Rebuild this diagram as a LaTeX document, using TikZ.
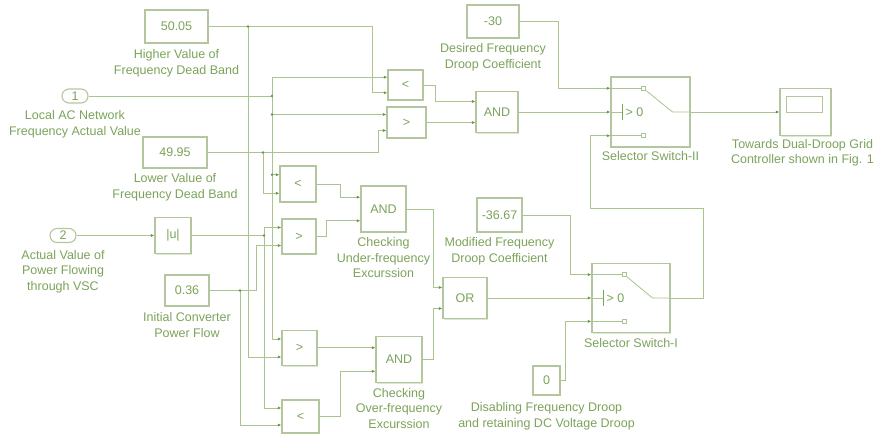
\documentclass[tikz,border=0pt]{standalone}
\usepackage{fontspec}
\setmainfont{Liberation Sans}
\usetikzlibrary{arrows.meta,positioning,calc,shadows}
\definecolor{SimText}{HTML}{7BA35A}
\definecolor{SimWire}{HTML}{A9C48E}
\definecolor{SimEdge}{HTML}{B2C79E}
\definecolor{SimTip}{HTML}{6E9448}

% port points on the left side of a block
\newcommand\twoin[1]{%
  \coordinate (#1-i1) at ($(#1.north west)!.25!(#1.south west)$);
  \coordinate (#1-i2) at ($(#1.north west)!.75!(#1.south west)$);}
\newcommand\threein[1]{%
  \coordinate (#1-i1) at ($(#1.north west)!{1/6}!(#1.south west)$);
  \coordinate (#1-i2) at (#1.west);
  \coordinate (#1-i3) at ($(#1.north west)!{5/6}!(#1.south west)$);}
% inside of a switch block
\newcommand\switchface[1]{%
  \draw[wire] (#1-i1) -- ++(31,0) node[term, anchor=west] (#1-up) {};
  \draw[wire] (#1-i3) -- ++(31,0) node[term, anchor=west] (#1-dn) {};
  \draw[wire] (#1-up.south east) -- ($(#1.east)+(-18,0)$) -- (#1.east);
  \draw[wire] (#1-i2) -- ++(12,0) coordinate (#1-bar);
  \draw[SimText, line width=.8pt] ($(#1-bar)+(0,-8)$) -- ($(#1-bar)+(0,8)$);
  \node[anchor=west, inner sep=0pt] (#1-cmp) at ($(#1-bar)+(3,0)$) {> 0};}

\begin{document}
\begin{tikzpicture}[
  x=1pt, y=-1pt,
  font=\fontsize{12.5}{15.5}\selectfont,
  every node/.style={text=SimText},
  block/.style={draw=SimEdge, line width=1.1pt, fill=white, inner sep=0pt,
    general shadow={fill=SimEdge!45, shadow xshift=1pt, shadow yshift=-1pt}},
  inport/.style={draw=SimEdge, line width=1.1pt, rounded corners=7pt, inner sep=0pt,
    minimum width=26, minimum height=14},
  note/.style={align=center, inner sep=0pt},
  term/.style={draw=SimWire, line width=.7pt, fill=white, inner sep=0pt, minimum size=4},
  jdot/.style={circle, fill=SimTip, inner sep=0pt, minimum size=2.6},
  wire/.style={draw=SimWire, line width=.8pt},
  feed/.style={wire, -{Latex[length=3.5pt,width=3pt,color=SimTip]}}
]
\useasboundingbox (0,0) rectangle (881,439);

% sources
\node[block, minimum width=63, minimum height=33] (hiband) at (176.5,26.5) {50.05};
\node[note, below=6pt of hiband] (hibandL) {Higher Value of\\Frequency Dead Band};
\node[inport] (fin) at (75,96) {1};
\node[note, below=7pt of fin] (finL) {Local AC Network\\Frequency Actual Value};
\node[block, minimum width=64, minimum height=31] (loband) at (175,152.5) {49.95};
\node[note, below=5pt of loband] (lobandL) {Lower Value of\\Frequency Dead Band};
\node[inport] (pin) at (63,235.5) {2};
\node[note, below=7pt of pin] (pinL) {Actual Value of\\Power Flowing\\through VSC};
\node[block, minimum width=36, minimum height=36] (absp) at (173,235.5) {|u|};
\node[block, minimum width=44, minimum height=31] (pinit) at (187,290.5) {0.36};
\node[note, below=6pt of pinit] (pinitL) {Initial Converter\\Power Flow};

% dead band check
\node[block, minimum width=35, minimum height=30] (bandLt) at (405.5,85) {<};
\node[block, minimum width=39, minimum height=31] (bandGt) at (406.5,122.5) {>};
\node[block, minimum width=42, minimum height=41] (bandAnd) at (497,112) {AND};
\node[block, minimum width=52, minimum height=33] (kdes) at (493,21.5) {-30};
\node[note, below=5pt of kdes] (kdesL) {Desired Frequency\\Droop Coefficient};
\node[block, minimum width=79, minimum height=70] (swII) at (650.5,112) {};
\node[note, below=4pt of swII] (swIIL) {Selector Switch-II};
\node[block, minimum width=51, minimum height=47] (scope) at (805.5,112) {};
\node[note, below=3pt of scope, xshift=-3pt] (scopeL) {Towards Dual-Droop Grid\\Controller shown in Fig. 1};

% under-frequency check
\node[block, minimum width=36, minimum height=36] (ufLt) at (298,184) {<};
\node[block, minimum width=34, minimum height=35] (ufGt) at (299,236.5) {>};
\node[block, minimum width=45, minimum height=46] (ufAnd) at (383.5,209) {AND};
\node[note, below=5pt of ufAnd] (ufAndL) {Checking\\Under-frequency\\Excurssion};

% over-frequency check
\node[block, minimum width=35, minimum height=35] (ofGt) at (299.5,348) {>};
\node[block, minimum width=37, minimum height=33] (ofLt) at (300.5,416.5) {<};
\node[block, minimum width=46, minimum height=46] (ofAnd) at (399,359.5) {AND};
\node[note, below=5pt of ofAnd] (ofAndL) {Checking\\Over-frequency\\Excurssion};

\node[block, minimum width=44, minimum height=41] (orGate) at (465,298) {OR};
\node[block, minimum width=45, minimum height=34] (kmod) at (499.5,215) {-36.67};
\node[note, below=5pt of kmod] (kmodL) {Modified Frequency\\Droop Coefficient};
\node[block, minimum width=78, minimum height=69] (swI) at (631,298) {};
\node[note, below=5pt of swI] (swIL) {Selector Switch-I};
\node[block, minimum width=27, minimum height=29] (kzero) at (546.5,380.5) {0};
\node[note, below=7pt of kzero] (kzeroL) {Disabling Frequency Droop\\and retaining DC Voltage Droop};

\twoin{bandLt} \twoin{bandGt} \twoin{bandAnd}
\twoin{ufLt} \twoin{ufGt} \twoin{ufAnd}
\twoin{ofGt} \twoin{ofLt} \twoin{ofAnd}
\twoin{orGate}
\threein{swII} \threein{swI}
\switchface{swII}
\switchface{swI}
\draw[SimEdge, line width=.9pt] ($(scope.north west)+(7,8)$) rectangle ($(scope.north west)+(43,24)$);

% branch points
\coordinate (jHi) at (248,26.5);
\coordinate (jF) at (272,96);
\coordinate (jLo) at (263,152.5);
\coordinate (jAbs) at (264,235.5);
\coordinate (jIni) at (240,290.5);

% connections
\draw[wire] (hiband.east) -- (jHi);
\draw[feed] (jHi) -- (372,26.5) |- (bandLt-i2);
\draw[feed] (jHi) |- (ofGt-i2);
\draw[wire] (fin.east) -- (jF);
\draw[feed] (jF) |- (bandLt-i1);
\draw[feed] (jF) |- (ofGt-i1);
\draw[feed] (jF |- bandGt-i1) -- (bandGt-i1);
\draw[feed] (jF |- ufLt-i1) -- (ufLt-i1);
\draw[wire] (loband.east) -- (jLo);
\draw[feed] (jLo) -- (378,152.5) |- (bandGt-i2);
\draw[feed] (jLo) |- (ufLt-i2);
\draw[feed] (pin.east) -- (absp.west);
\draw[wire] (absp.east) -- (jAbs);
\draw[feed] (jAbs) |- (ufGt-i1);
\draw[feed] (jAbs) |- (ofLt-i1);
\draw[wire] (pinit.east) -- (jIni);
\draw[feed] (jIni) -- (256,290.5) |- (ufGt-i2);
\draw[feed] (jIni) |- (ofLt-i2);

\draw[feed] (bandLt.east) -- ++(12,0) |- (bandAnd-i1);
\draw[feed] (bandGt.east |- bandAnd-i2) -- (bandAnd-i2);
\draw[feed] (bandAnd.east) -- (swII-i2);
\draw[feed] (kdes.east) -- ++(39,0) |- (swII-i1);
\draw[feed] (swII.east) -- (scope.west);

\draw[feed] (ufLt.east) -- ++(24,0) |- (ufAnd-i1);
\draw[feed] (ufGt.east) -- ++(10,0) |- (ufAnd-i2);
\draw[feed] (ofGt.east |- ofAnd-i1) -- (ofAnd-i1);
\draw[feed] (ofLt.east) -- ++(21,0) |- (ofAnd-i2);
\draw[feed] (ufAnd.east) -- ++(27,0) |- (orGate-i1);
\draw[feed] (ofAnd.east) -- ++(11,0) |- (orGate-i2);

\draw[feed] (kmod.east) -- ++(48,0) |- (swI-i1);
\draw[feed] (orGate.east) -- (swI-i2);
\draw[feed] (kzero.east) -- ++(5,0) |- (swI-i3);
\draw[feed] (swI.east) -- (703,298) -- (703,208) -- (590,208) |- (swII-i3);

\foreach \j in {jHi, jF, jLo, jAbs, jIni}
  \node[jdot] at (\j) {};
\node[jdot] at (jF |- bandGt-i1) {};
\node[jdot] at (jF |- ufLt-i1) {};
\end{tikzpicture}
\end{document}
